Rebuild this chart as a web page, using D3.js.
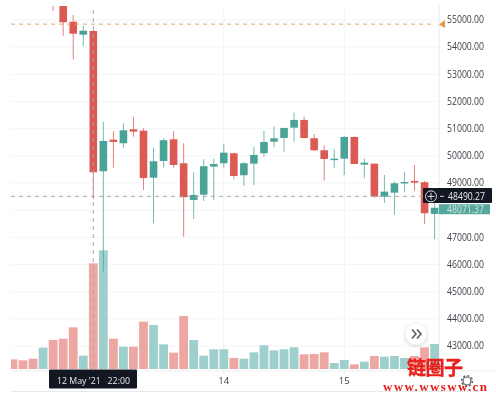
<!DOCTYPE html>
<html><head><meta charset="utf-8">
<script src="https://cdn.jsdelivr.net/npm/d3@7/dist/d3.min.js"></script>
<style>html,body{margin:0;padding:0;background:#fff}svg{display:block;filter:blur(0.5px)}</style>
</head><body><svg id="c" width="496" height="396"></svg>
<script>
const barIndex=[-4,-3,-2,-1,0,1,2,3,4,5,6,7,8,9,10,11,12,13,14,15,16,17,18,19,20,21,22,23,24,25,26,27,28,29,30,31,32,33,34];
const opens=[55800,55600,54919,54441,54577,49414,50577,50444,50959,50908,49178,49793,50591,49708,48358,48553,49583,49708,50076,49266,49693,50076,50503,50639,51018,51302,50628,50186,49830,49878,50676,49657,49693,48479,48626,48994,49057,49009,47842];
const highs=[56000,55800,55166,54761,54620,51239,50897,51180,51423,50996,50282,50628,50897,50444,49377,49855,49877,50407,50098,49745,50319,50897,51055,51018,51570,51423,50786,50356,50223,50713,50695,49892,49701,49278,49031,49399,49646,49057,48505];
const lows=[55310,54404,53535,54025,48394,45719,49546,50282,50687,48726,47500,49546,49546,47007,47658,48321,48358,49546,49119,48873,48910,49951,50297,50135,50503,50621,50161,49068,49535,49278,49664,49156,48431,48247,47806,48663,48700,47474,46911];
const closes=[55550,54897,54477,54588,49377,50529,50492,50922,50871,49167,49782,50555,49646,48457,48542,49598,49682,50098,49241,49708,50014,50492,50628,51007,51302,50639,50186,49866,49878,50676,49682,49730,48479,48663,48972,49020,48994,47868,48071];
const volIndex=d3.range(-8,35);
const volumes=[29,26,31,64,87,91,125,40,317,356,91,67,67,142,132,74,49,159,87,40,59,59,33,31,50,71,56,59,65,44,45,50,18,27,14,22,39,37,39,33,39,65,75];
const volUp=[0,0,0,1,0,0,0,1,0,1,0,1,0,0,1,1,0,0,1,1,1,1,0,1,1,1,1,1,1,0,0,0,1,1,0,1,0,1,1,1,0,0,1];
const priceTicks=[55000,54000,53000,52000,51000,50000,49000,48000,47000,46000,45000,44000,43000];
const shownTicks=priceTicks.filter(d=>d!==48000);
const timeTicks=[{i:13,label:"14"},{i:25,label:"15"}];
const crossPrice=48490.27, lastPrice=48071.37, alertPrice=54830, crossIndex=0;

const F="'Open Sans',sans-serif", RED="#db5a54", GRN="#4aa396", VRED="#eda7a3", VGRN="#9dd0cc";
const svg=d3.select("#c");
const x=d3.scaleLinear().domain([0,13]).range([93.3,223.8]);
const y=d3.scaleLinear().domain([55000,43000]).range([19.5,345.5]);
const v=d3.scaleLinear().domain([0,300]).range([369,269]);
const L=11,R=439,T=6,B=369;

const defs=svg.append("defs");
defs.append("clipPath").attr("id","plot").append("rect").attr("x",L).attr("y",T).attr("width",R-L).attr("height",B-T+1);
const sh=defs.append("filter").attr("id","sh").attr("x","-40%").attr("y","-40%").attr("width","180%").attr("height","180%");
sh.append("feDropShadow").attr("dx",0).attr("dy",1).attr("stdDeviation",2).attr("flood-opacity",.2);

// grid
svg.append("g").selectAll("line").data(priceTicks).join("line")
 .attr("x1",L).attr("x2",R).attr("y1",d=>y(d)+.5).attr("y2",d=>y(d)+.5).attr("stroke","#f4f5f7");
svg.append("g").selectAll("line").data(timeTicks).join("line")
 .attr("x1",d=>x(d.i)).attr("x2",d=>x(d.i)).attr("y1",T).attr("y2",B+6).attr("stroke","#eef0f3");
svg.append("line").attr("x1",R).attr("x2",R).attr("y1",5).attr("y2",391).attr("stroke","#e6e8ec");
svg.append("line").attr("x1",L).attr("x2",496).attr("y1",371).attr("y2",371).attr("stroke","#eeeff2");
svg.append("line").attr("x1",L).attr("x2",R+40).attr("y1",391.5).attr("y2",391.5).attr("stroke","#e6e8ec");

const plot=svg.append("g").attr("clip-path","url(#plot)");
// volume
const w=8.8;
plot.append("g").selectAll("rect").data(volumes).join("rect")
 .attr("x",(d,i)=>x(volIndex[i])-w/2).attr("width",w)
 .attr("y",d=>v(d)).attr("height",d=>v(0)-v(d))
 .attr("fill",(d,i)=>volUp[i]?VGRN:VRED);

// alert + crosshair lines
svg.append("line").attr("x1",L).attr("x2",432).attr("y1",y(alertPrice)).attr("y2",y(alertPrice))
 .attr("stroke","#d9a777").attr("stroke-dasharray","4 4");
svg.append("line").attr("x1",L).attr("x2",423).attr("y1",y(crossPrice)).attr("y2",y(crossPrice))
 .attr("stroke","#a8a8a8").attr("stroke-dasharray","4 4");
svg.append("line").attr("x1",x(crossIndex)).attr("x2",x(crossIndex)).attr("y1",10).attr("y2",B)
 .attr("stroke","#b0a6a7").attr("stroke-dasharray","4 4");

// candles
const cw=7.6;
const cg=plot.append("g").selectAll("g").data(barIndex).join("g");
const col=(i)=>closes[i]>=opens[i]?GRN:RED;
cg.append("line").attr("x1",d=>x(d)).attr("x2",d=>x(d))
 .attr("y1",(d,i)=>y(highs[i])).attr("y2",(d,i)=>y(lows[i]))
 .attr("stroke",(d,i)=>col(i)).attr("stroke-opacity",.75);
cg.append("rect").attr("x",d=>x(d)-cw/2).attr("width",cw)
 .attr("y",(d,i)=>y(Math.max(opens[i],closes[i])))
 .attr("height",(d,i)=>Math.max(1.5,Math.abs(y(opens[i])-y(closes[i]))))
 .attr("fill",(d,i)=>col(i));

// price labels
const numLen=37;
svg.append("g").selectAll("text").data(shownTicks).join("text")
 .attr("x",447).attr("y",d=>y(d)+3.8).attr("font-family",F).attr("font-size",10).attr("fill","#3b3f46")
 .attr("textLength",numLen).attr("lengthAdjust","spacingAndGlyphs")
 .text(d=>d3.format(".2f")(d));

// alert arrow
svg.append("path").attr("fill","#e8974a")
 .attr("d",d3.line()([[439,y(alertPrice)+.3],[445,y(alertPrice)-4],[445,y(alertPrice)+4]]));

// last price label
svg.append("rect").attr("x",439).attr("y",y(lastPrice)-3.5).attr("width",51).attr("height",10).attr("fill","#57a89c");
svg.append("text").attr("x",447).attr("y",y(lastPrice)+5).attr("font-family",F).attr("font-size",10).attr("fill","#cfe6e2")
 .attr("textLength",numLen).attr("lengthAdjust","spacingAndGlyphs").text(lastPrice.toFixed(2));

// crosshair price label
svg.append("rect").attr("x",423).attr("y",188).attr("width",69).attr("height",15).attr("rx",1).attr("fill","#131722");
svg.append("circle").attr("cx",431).attr("cy",y(crossPrice)).attr("r",5.5).attr("fill","none").attr("stroke","#d8dade");
svg.append("path").attr("d",`M427.5 ${y(crossPrice)}h7M431 ${y(crossPrice)-3.5}v7`).attr("stroke","#d8dade").attr("fill","none");
svg.append("text").attr("x",448).attr("y",y(crossPrice)+3.8).attr("font-family",F).attr("font-size",10).attr("fill","#e8e9ec")
 .attr("textLength",numLen).attr("lengthAdjust","spacingAndGlyphs").text(crossPrice.toFixed(2));
svg.append("line").attr("x1",440).attr("x2",444).attr("y1",y(crossPrice)).attr("y2",y(crossPrice)).attr("stroke","#c8cad0");

// time axis
svg.append("g").selectAll("text").data(timeTicks).join("text")
 .attr("x",d=>x(d.i)).attr("y",384).attr("text-anchor","middle").attr("font-family",F).attr("font-size",9.5).attr("fill","#3b3f46").text(d=>d.label);
svg.append("rect").attr("x",49).attr("y",369.5).attr("width",88).attr("height",19).attr("rx",1).attr("fill","#131722");
svg.append("text").attr("x",57).attr("y",384).attr("font-family",F).attr("font-size",9.5).attr("fill","#e8e9ec").attr("textLength",73).attr("lengthAdjust","spacingAndGlyphs").style("white-space","pre").text("12 May '21   22:00");

// scroll button
svg.append("circle").attr("cx",416).attr("cy",334).attr("r",10.5).attr("fill","#fff").attr("filter","url(#sh)");
svg.append("path").attr("d","M412 329.5l4 4.5l-4 4.5M417 329.5l4 4.5l-4 4.5").attr("fill","none").attr("stroke","#555a63").attr("stroke-width",1.6);

// gear
svg.append("circle").attr("cx",467).attr("cy",381).attr("r",4).attr("fill","none").attr("stroke","#5b5f67").attr("stroke-width",1.2);
svg.append("circle").attr("cx",467).attr("cy",381).attr("r",5.4).attr("fill","none").attr("stroke","#5b5f67").attr("stroke-width",1.4).attr("stroke-dasharray","2 2.2");

// watermark
svg.append("text").attr("x",435).attr("y",375).attr("text-anchor","middle").attr("font-family","'Noto Sans CJK SC'").attr("font-weight",700).attr("font-size",19).attr("fill","#e8201c").attr("textLength",56).attr("stroke","#e8201c").attr("stroke-width",.4).text("链圈子");
svg.append("text").attr("x",383).attr("y",391).attr("font-family","'Liberation Serif',serif").attr("font-weight",700).attr("font-size",13).attr("fill","#e8201c").attr("textLength",104).text("www.wwsww.cn");
</script></body></html>
